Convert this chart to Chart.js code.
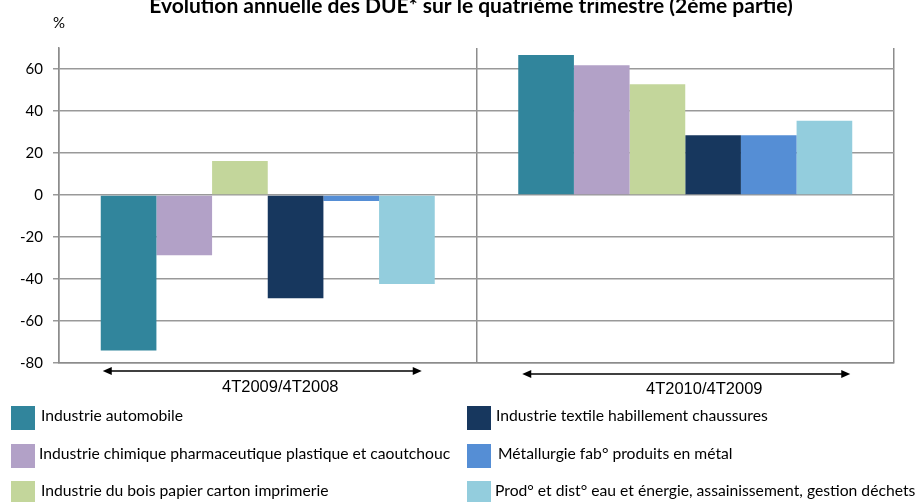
<!DOCTYPE html>
<html>
<head>
<meta charset="utf-8">
<script src="https://cdn.jsdelivr.net/npm/chart.js@4.4.0/dist/chart.umd.min.js"></script>
<style>
  html, body { margin: 0; padding: 0; background: #fff; }
  #wrap { position: relative; width: 916px; height: 502px; overflow: hidden; }
  canvas { position: absolute; left: 0; top: 0; }
  .lg { position: absolute; font-family: Lato, "Open Sans", sans-serif; font-size: 15.7px; color: #000; white-space: nowrap; }
  .sw { position: absolute; width: 24px; height: 24px; }
</style>
</head>
<body>
<div id="wrap">
  <canvas id="c" width="916" height="502"></canvas>
  <div id="legend"></div>
</div>
<script>
const periods = ['4T2009/4T2008', '4T2010/4T2009'];
const seriesNames = [
  'Industrie automobile',
  'Industrie chimique pharmaceutique plastique et caoutchouc',
  'Industrie du bois papier carton imprimerie',
  'Industrie textile habillement chaussures',
  'Métallurgie fab° produits en métal',
  'Prod° et dist° eau et énergie, assainissement, gestion déchets'
];
const automobile = [-74, 66.7];
const chimique = [-28.7, 61.8];
const bois = [16.2, 52.7];
const textile = [-49.2, 28.4];
const metallurgie = [-2.9, 28.4];
const eauEnergie = [-42.4, 35.4];
const seriesValues = [automobile, chimique, bois, textile, metallurgie, eauEnergie];
const colors = ['#31859C', '#B2A1C7', '#C3D69B', '#17375E', '#558ED5', '#93CDDD'];
const yTicks = [-80, -60, -40, -20, 0, 20, 40, 60];
const title = 'Evolution annuelle des DUE* sur le quatrième trimestre (2ème partie)';

const extras = {
  id: 'extras',
  afterDraw(chart) {
    const ctx = chart.ctx;
    const x = chart.scales.x;
    ctx.save();
    ctx.fillStyle = '#000';
    ctx.font = 'bold 21px Lato, "Open Sans", sans-serif';
    ctx.textAlign = 'center';
    ctx.textBaseline = 'alphabetic';
    ctx.fillText(title, 471, 13);
    ctx.font = '15px Lato, sans-serif';
    ctx.textAlign = 'left';
    ctx.fillText('%', 53, 28);
    // arrows + period labels
    const defs = [
      { i: 0, a: -165, b: 154, y: 371, tx: 12.5, ty: 392 },
      { i: 1, a: -163, b: 165, y: 374, tx: 19, ty: 394 }
    ];
    ctx.font = '16.5px "Liberation Sans", Arial, sans-serif';
    ctx.textAlign = 'center';
    ctx.strokeStyle = '#000';
    ctx.lineWidth = 1.5;
    defs.forEach(d => {
      const c = x.getPixelForValue(d.i);
      const x1 = c + d.a, x2 = c + d.b;
      ctx.beginPath();
      ctx.moveTo(x1 + 6, d.y); ctx.lineTo(x2 - 6, d.y); ctx.stroke();
      ctx.beginPath();
      ctx.moveTo(x1, d.y); ctx.lineTo(x1 + 9, d.y - 4); ctx.lineTo(x1 + 9, d.y + 4); ctx.closePath(); ctx.fill();
      ctx.beginPath();
      ctx.moveTo(x2, d.y); ctx.lineTo(x2 - 9, d.y - 4); ctx.lineTo(x2 - 9, d.y + 4); ctx.closePath(); ctx.fill();
      ctx.fillText(periods[d.i], c + d.tx, d.ty);
    });
    ctx.restore();
  }
};

new Chart(document.getElementById('c'), {
  type: 'bar',
  data: {
    labels: periods,
    datasets: seriesNames.map((n, i) => ({
      label: n,
      data: seriesValues[i],
      backgroundColor: colors[i],
      borderWidth: 0,
      categoryPercentage: 0.8,
      barPercentage: 1
    }))
  },
  options: {
    responsive: false,
    animation: false,
    layout: { padding: { top: 48, right: 22, left: 0, bottom: 0 } },
    plugins: { legend: { display: false }, tooltip: { enabled: false }, title: { display: false } },
    scales: {
      x: {
        ticks: { display: false },
        grid: { display: true, offset: true, color: '#8c8c8c', lineWidth: 1.5, drawTicks: false },
        border: { display: true, color: '#8c8c8c', width: 1.5 },
        afterFit(s) { s.height = 139; }
      },
      y: {
        min: -80, max: 70,
        afterBuildTicks(s) { s.ticks = yTicks.map(v => ({ value: v })); },
        ticks: { color: '#000', font: { family: 'Lato, "Open Sans", sans-serif', size: 15 }, padding: 10 },
        grid: { color: '#999', lineWidth: 1.5, tickLength: 6 },
        border: { display: true, color: '#8c8c8c', width: 1.5 },
        afterFit(s) { s.width = 59; }
      }
    }
  },
  plugins: [extras]
});

// Legend (HTML text)
const legendPos = [
  { x: 11, y: 406, tx: 41 }, { x: 11, y: 444, tx: 39 }, { x: 11, y: 481, tx: 41 },
  { x: 467, y: 406, tx: 496 }, { x: 467, y: 444, tx: 498 }, { x: 467, y: 481, tx: 495 }
];
const lg = document.getElementById('legend');
seriesNames.forEach((n, i) => {
  const p = legendPos[i];
  const sw = document.createElement('div');
  sw.className = 'sw';
  sw.style.left = p.x + 'px'; sw.style.top = p.y + 'px'; sw.style.background = colors[i];
  lg.appendChild(sw);
  const t = document.createElement('div');
  t.className = 'lg';
  t.textContent = n;
  t.style.left = p.tx + 'px'; t.style.top = (p.y + 0) + 'px';
  lg.appendChild(t);
});
</script>
</body>
</html>
